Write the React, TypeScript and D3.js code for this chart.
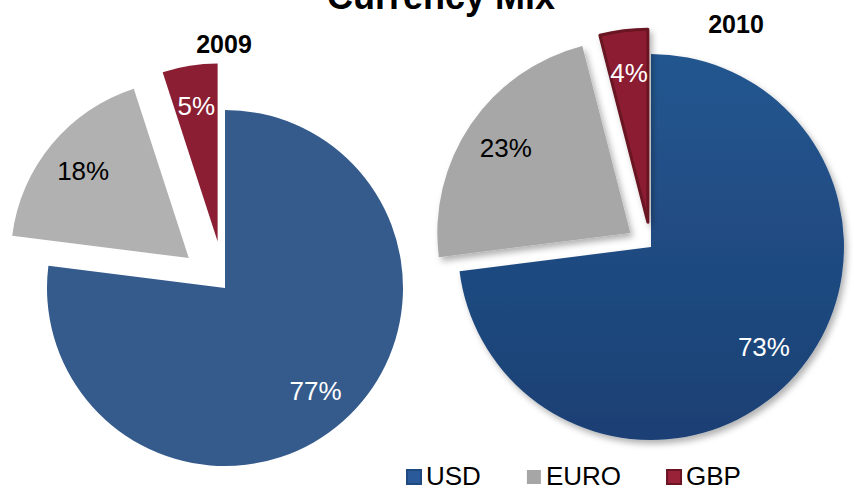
import { useRef, useEffect } from "react";
import * as d3 from "d3";

const currencies = ["USD", "EURO", "GBP"];
const years = ["2009", "2010"];
const share2009 = [77, 18, 5];
const share2010 = [73, 23, 4];

const WIDTH = 854;
const HEIGHT = 490;
const FONT = "'Liberation Sans', Arial, Helvetica, sans-serif";

const App = () => {
	const svgRef = useRef<SVGSVGElement>(null);

	useEffect(() => {
		const svg = d3.select(svgRef.current);
		svg.selectAll("*").remove(); // start clean

		const defs = svg.append("defs");
		const grad = defs
			.append("linearGradient")
			.attr("id", "usdGrad")
			.attr("x1", 0)
			.attr("y1", 0)
			.attr("x2", 0)
			.attr("y2", 1);
		grad.append("stop").attr("offset", "0%").attr("stop-color", "#24568f");
		grad.append("stop").attr("offset", "100%").attr("stop-color", "#1b4074");

		const shadow = defs
			.append("filter")
			.attr("id", "shadow")
			.attr("x", "-20%")
			.attr("y", "-20%")
			.attr("width", "140%")
			.attr("height", "140%");
		shadow
			.append("feDropShadow")
			.attr("dx", 3)
			.attr("dy", 4)
			.attr("stdDeviation", 3)
			.attr("flood-color", "#000")
			.attr("flood-opacity", 0.3);

		// Title (cut off at the top, as in the original)
		svg
			.append("text")
			.attr("x", 441)
			.attr("y", 9)
			.attr("text-anchor", "middle")
			.style("font-family", FONT)
			.style("font-weight", "bold")
			.style("font-size", "36px")
			.text("Currency Mix");

		const pies = [
			{
				year: years[0],
				values: share2009,
				cx: 225,
				cy: 288,
				r: 178,
				explode: 47,
				labelR: 0.77,
				colors: ["#345b8c", "#b1b1b1", "#8b1e32"],
				strokes: ["none", "none", "none"],
				filter: null as string | null,
				titleX: 224,
				titleY: 53,
			},
			{
				year: years[1],
				values: share2010,
				cx: 651,
				cy: 247,
				r: 193,
				explode: 25,
				labelR: 0.78,
				colors: ["url(#usdGrad)", "#a7a7a7", "#8b1d31"],
				strokes: ["none", "none", "#6b1424"],
				filter: "url(#shadow)",
				titleX: 736,
				titleY: 33,
			},
		];

		const labelColors = ["#ffffff", "#000000", "#ffffff"];

		const pie = d3
			.pie<number>()
			.sort(null)
			.value((d) => d);

		pies.forEach((p) => {
			const arc = d3.arc<d3.PieArcDatum<number>>().innerRadius(0).outerRadius(p.r);
			const arcLabel = d3
				.arc<d3.PieArcDatum<number>>()
				.innerRadius(p.r * p.labelR)
				.outerRadius(p.r * p.labelR);
			const arcs = pie(p.values);

			const g = svg.append("g").attr("transform", `translate(${p.cx},${p.cy})`);

			const slices = g
				.selectAll(".slice")
				.data(arcs)
				.enter()
				.append("g")
				.attr("class", "slice")
				.attr("transform", (d, i) => {
					const mid = (d.startAngle + d.endAngle) / 2;
					const off = i === 0 ? 0 : p.explode;
					return `translate(${Math.sin(mid) * off},${-Math.cos(mid) * off})`;
				});

			slices
				.append("path")
				.attr("d", arc)
				.attr("fill", (d, i) => p.colors[i])
				.attr("stroke", (d, i) => p.strokes[i])
				.attr("stroke-width", 3)
				.attr("stroke-linejoin", "round")
				.attr("filter", p.filter);

			slices
				.append("text")
				.attr("transform", (d) => {
					const [x, y] = arcLabel.centroid(d);
					return `translate(${x},${y})`;
				})
				.attr("dy", "0.35em")
				.attr("text-anchor", "middle")
				.attr("fill", (d, i) => labelColors[i])
				.style("font-family", FONT)
				.style("font-size", "26px")
				.text((d) => `${d.data}%`);

			svg
				.append("text")
				.attr("x", p.titleX)
				.attr("y", p.titleY)
				.attr("text-anchor", "middle")
				.style("font-family", FONT)
				.style("font-weight", "bold")
				.style("font-size", "25px")
				.text(p.year);
		});

		// Legend
		const legendFill = ["#2a5a9a", "#a6a6a6", "#9a2238"];
		const legendStroke = ["#1f4a80", "none", "#6b1424"];
		const legend = svg.append("g").attr("transform", "translate(406, 485)");
		let x = 0;
		currencies.forEach((name, i) => {
			const item = legend.append("g").attr("transform", `translate(${x},0)`);
			item
				.append("rect")
				.attr("x", 1)
				.attr("y", -15)
				.attr("width", 14)
				.attr("height", 14)
				.attr("fill", legendFill[i])
				.attr("stroke", legendStroke[i])
				.attr("stroke-width", 2);
			const t = item
				.append("text")
				.attr("x", 20)
				.attr("y", 0)
				.style("font-family", FONT)
				.style("font-size", "26px")
				.text(name);
			const w = (t.node() as SVGTextElement).getComputedTextLength();
			x += 20 + w + 45;
		});
	}, []);

	return (
		<svg
			ref={svgRef}
			width={WIDTH}
			height={HEIGHT}
			style={{ position: "absolute", left: 0, top: 0, background: "#fff" }}
		></svg>
	);
};

export default App;
